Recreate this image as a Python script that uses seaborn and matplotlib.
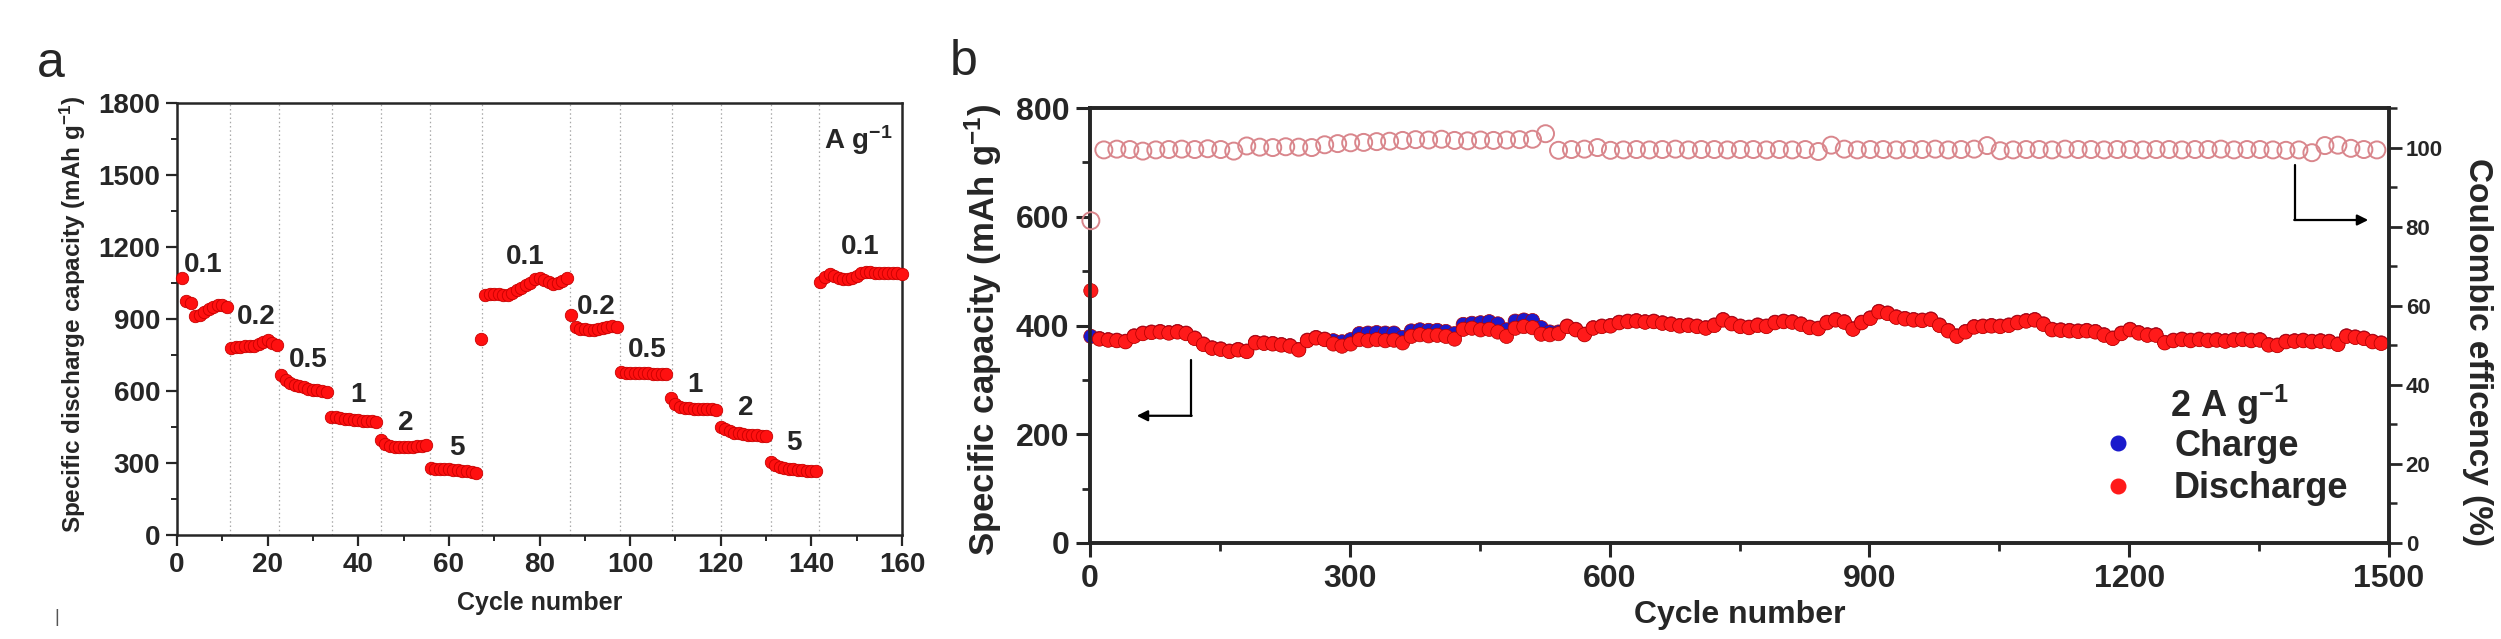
import numpy as np
import pandas as pd
import matplotlib
matplotlib.use("Agg")
import matplotlib.pyplot as plt
from matplotlib.lines import Line2D
from matplotlib.ticker import MultipleLocator
import seaborn as sns


############### data, panel a (rate capability, one value per cycle 1..160)
rate_capacity = [
    1069, 975, 965, 912, 915, 928, 940, 950, 958, 960, 952,        # 0.1
    780, 782, 784, 786, 787, 789, 795, 806, 812, 800, 792,         # 0.2
    667, 645, 633, 626, 620, 615, 610, 606, 603, 600, 597,         # 0.5
    493, 490, 487, 484, 482, 480, 478, 476, 475, 474, 472,         # 1
    396, 381, 372, 368, 367, 367, 367, 368, 369, 372, 375,         # 2
    278, 277, 276, 275, 274, 272, 270, 268, 265, 262, 258,         # 5
    818, 1000, 1005, 1005, 1003, 1002, 1000, 1010, 1020, 1030,     # 0.1
    1040, 1052, 1065, 1072, 1062, 1055, 1045, 1050, 1060, 1070,
    915, 865, 860, 858, 855, 855, 860, 862, 868, 872, 865,         # 0.2
    678, 676, 675, 674, 674, 673, 673, 672, 672, 671, 670,         # 0.5
    570, 545, 535, 530, 528, 527, 526, 525, 524, 523, 521,         # 1
    452, 440, 432, 427, 423, 420, 418, 416, 415, 414, 412,         # 2
    305, 290, 283, 280, 277, 275, 272, 270, 268, 266, 265,         # 5
    1055, 1075, 1088, 1080, 1072, 1068, 1065, 1070, 1080, 1090,    # 0.1
    1095, 1095, 1093, 1092, 1091, 1090, 1090, 1090, 1089,
]
rate_cycles = np.arange(1, len(rate_capacity) + 1)

# cycle positions where the current density changes (dotted lines)
rate_switch = [11.6, 22.6, 34.1, 45.0, 55.8, 67.3, 86.7, 97.8, 109.2, 120.0, 131.0, 141.7]

rate_labels = ["0.1", "0.2", "0.5", "1", "2", "5", "0.1", "0.2", "0.5", "1", "2", "5", "0.1"]
rate_label_x = [5.8, 17.6, 29.0, 39.9, 50.5, 61.7, 76.8, 92.6, 103.7, 114.3, 125.5, 136.2, 150.7]
rate_label_y = [1125, 910, 729, 583, 465, 361, 1160, 951, 771, 625, 528, 382, 1201]


############### data, panel b (long cycling at 2 A/g, every 10th cycle)
discharge = [
    464, 375, 373, 372, 370, 380, 385, 387, 388, 386,
    388, 385, 376, 365, 358, 356, 352, 355, 352, 368,
    367, 366, 364, 362, 355, 372, 377, 374, 366, 362,
    366, 374, 372, 374, 372, 373, 368, 380, 383, 381,
    382, 380, 375, 393, 395, 392, 393, 388, 380, 395,
    398, 396, 384, 383, 385, 398, 392, 383, 395, 398,
    399, 405, 407, 408, 406, 407, 404, 402, 399, 400,
    398, 395, 400, 410, 403, 398, 396, 400, 398, 405,
    407, 406, 402, 396, 394, 405, 410, 406, 393, 405,
    413, 425, 422, 415, 412, 410, 409, 411, 400, 390,
    380, 388, 397, 398, 399, 398, 400, 405, 408, 410,
    402, 392, 391, 390, 389, 390, 388, 382, 376, 385,
    392, 386, 382, 382, 368, 372, 374, 372, 374, 372,
    373, 371, 373, 374, 372, 373, 364, 363, 370, 371,
    372, 370, 371, 370, 365, 380, 378, 376, 370, 367,
]
charge = [
    380, 376, 374, 373, 371, 381, 386, 388, 389, 387,
    389, 386, 377, 366, 359, 357, 353, 356, 353, 369,
    368, 367, 365, 363, 356, 373, 378, 375, 372, 370,
    374, 385, 386, 387, 386, 386, 378, 390, 392, 391,
    391, 389, 385, 402, 404, 405, 407, 403, 392, 408,
    410, 409, 396, 388, 388, 399, 393, 384, 396, 399,
    400, 406, 408, 409, 407, 408, 405, 403, 400, 401,
    399, 396, 401, 411, 404, 399, 397, 401, 399, 406,
    408, 407, 403, 397, 395, 406, 411, 407, 394, 406,
    414, 426, 423, 416, 413, 411, 410, 412, 401, 391,
    381, 389, 398, 399, 400, 399, 401, 406, 409, 411,
    403, 393, 392, 391, 390, 391, 389, 383, 377, 386,
    393, 387, 383, 383, 369, 373, 375, 373, 375, 373,
    374, 372, 374, 375, 373, 374, 365, 364, 371, 372,
    373, 371, 372, 371, 366, 381, 379, 377, 371, 368,
]
cap_cycles = 1 + 10 * np.arange(len(discharge))

# coulombic efficiency, every 15th cycle
coulombic = [
    81.5, 99.4, 99.6, 99.5, 99.1, 99.4, 99.5, 99.6, 99.5, 99.7,
    99.5, 99.1, 100.4, 100.1, 100.0, 100.2, 100.1, 100.0, 100.7, 101.0,
    101.2, 101.3, 101.5, 101.6, 101.8, 102.0, 101.9, 102.1, 101.8, 101.7,
    101.9, 101.8, 101.9, 102.0, 102.1, 103.5, 99.3, 99.5, 99.6, 100.0,
    99.3, 99.4, 99.5, 99.4, 99.5, 99.6, 99.4, 99.5, 99.5, 99.4,
    99.5, 99.5, 99.4, 99.5, 99.4, 99.5, 99.0, 100.6, 99.6, 99.4,
    99.5, 99.5, 99.4, 99.5, 99.5, 99.6, 99.4, 99.5, 99.6, 100.5,
    99.2, 99.4, 99.5, 99.5, 99.4, 99.6, 99.5, 99.5, 99.4, 99.5,
    99.5, 99.4, 99.5, 99.5, 99.4, 99.5, 99.5, 99.6, 99.4, 99.5,
    99.5, 99.4, 99.3, 99.4, 98.7, 100.5, 100.6, 99.8, 99.5, 99.4,
]
ce_cycles = 1 + 15 * np.arange(len(coulombic))

series_names = ["Charge", "Discharge"]
series_colors = {"Charge": "#1a1acc", "Discharge": "#ff1a1a"}

# L-shaped pointer arrows (data coords of the left axis)
left_arrow = [(117, 337), (117, 234), (54, 234)]
right_arrow = [(1391, 695), (1391, 594), (1476, 594)]


############### style
sns.set_theme(style="ticks")
plt.rcParams["font.family"] = ["Liberation Sans", "DejaVu Sans"]
plt.rcParams["font.weight"] = "bold"
plt.rcParams["axes.labelweight"] = "bold"
plt.rcParams["mathtext.fontset"] = "custom"
plt.rcParams["mathtext.rm"] = "Liberation Sans:bold"
plt.rcParams["mathtext.default"] = "rm"

W, H = 2501, 639
fig = plt.figure(figsize=(W / 100, H / 100), dpi=100)
fig.patch.set_facecolor("white")

RED = "#ff1010"
RED_EDGE = "#c80000"


############### panel a
axa = fig.add_axes([177 / W, 1 - 535 / H, 725 / W, 432 / H])
for xs in rate_switch:
    axa.axvline(xs, color="#a8a8a8", lw=0.9, ls=(0, (1.2, 2.2)), zorder=1)

sns.scatterplot(x=rate_cycles, y=rate_capacity, ax=axa, color=RED,
                edgecolor=RED_EDGE, linewidth=0.6, s=80, zorder=3, clip_on=False)

for lab, lx, ly in zip(rate_labels, rate_label_x, rate_label_y):
    axa.text(lx, ly, lab, ha="center", va="center", fontsize=20, fontweight="bold")
axa.text(150.4, 1646, "A g$^{-1}$", ha="center", va="center", fontsize=20, fontweight="bold")

axa.set_xlim(0, 160)
axa.set_ylim(0, 1800)
axa.xaxis.set_major_locator(MultipleLocator(20))
axa.xaxis.set_minor_locator(MultipleLocator(10))
axa.yaxis.set_major_locator(MultipleLocator(300))
axa.yaxis.set_minor_locator(MultipleLocator(150))
axa.tick_params(which="major", direction="out", length=8, width=1.6, labelsize=20, pad=4)
axa.tick_params(which="minor", direction="out", length=4.5, width=1.4)
for sp in axa.spines.values():
    sp.set_linewidth(1.8)
    sp.set_visible(True)
axa.set_xlabel("Cycle number", fontsize=18, fontweight="bold")
axa.set_ylabel("Specific discharge capacity (mAh g$^{-1}$)", fontsize=17.5, fontweight="bold")
axa.xaxis.set_label_coords(0.5, -0.13)
axa.yaxis.set_label_coords(-0.123, 0.51)


############### panel b
axb = fig.add_axes([1090 / W, 1 - 543 / H, 1299 / W, 435 / H])
df_cap = pd.DataFrame({
    "cycle": np.concatenate([cap_cycles, cap_cycles]),
    "capacity": np.concatenate([charge, discharge]),
    "series": np.repeat(series_names, len(cap_cycles)),
})
sns.scatterplot(data=df_cap, x="cycle", y="capacity", hue="series",
                palette=series_colors, ax=axb, s=105, linewidth=0.5,
                edgecolor="#b00000", legend=False, zorder=3, clip_on=False)

axb.set_xlim(0, 1500)
axb.set_ylim(0, 800)
axb.xaxis.set_major_locator(MultipleLocator(300))
axb.xaxis.set_minor_locator(MultipleLocator(150))
axb.yaxis.set_major_locator(MultipleLocator(200))
axb.yaxis.set_minor_locator(MultipleLocator(100))
axb.tick_params(which="major", direction="out", length=10, width=2.2, labelsize=23, pad=5)
axb.tick_params(which="minor", direction="out", length=6, width=2.0)
for sp in axb.spines.values():
    sp.set_linewidth(2.6)
    sp.set_visible(True)
axb.set_xlabel("Cycle number", fontsize=23, fontweight="bold")
axb.set_ylabel("Specific capacity (mAh g$^{-1}$)", fontsize=25, fontweight="bold")
axb.xaxis.set_label_coords(0.5, -0.13)
axb.yaxis.set_label_coords(-0.066, 0.49)

# coulombic efficiency on a twin axis
axc = axb.twinx()
sns.scatterplot(x=ce_cycles, y=coulombic, ax=axc, marker="o", s=150,
                facecolor="none", edgecolor="#d9868c", linewidth=1.4,
                zorder=3, clip_on=False)
axc.set_ylim(0, 110)
axc.yaxis.set_major_locator(MultipleLocator(20))
axc.yaxis.set_minor_locator(MultipleLocator(10))
axc.tick_params(which="major", direction="out", length=9, width=2.0, labelsize=16, pad=3)
axc.tick_params(which="minor", direction="out", length=5.5, width=1.8)
for sp in axc.spines.values():
    sp.set_linewidth(2.6)
axc.set_ylabel("Coulombic efficency (%)", fontsize=24, fontweight="bold",
               rotation=270, va="bottom")
axc.yaxis.set_label_coords(1.056, 0.44)

# pointer arrows
for path, ax in ((left_arrow, axb), (right_arrow, axb)):
    (x0, y0), (x1, y1), (x2, y2) = path
    ax.plot([x0, x1], [y0, y1], color="black", lw=1.6, zorder=4)
    ax.annotate("", xy=(x2, y2), xytext=(x1 + (0.4 if x2 < x1 else -0.4), y1),
                arrowprops=dict(arrowstyle="-|>", color="black", lw=1.6,
                                mutation_scale=16, shrinkA=0, shrinkB=0),
                zorder=4)

# legend
handles = [Line2D([], [], ls="none", marker="o", markersize=10.5,
                  markerfacecolor=series_colors[n], markeredgecolor=series_colors[n])
           for n in series_names]
axb.legend(handles, series_names, loc="upper left", bbox_to_anchor=(0.7775, 0.262),
           frameon=False, handlelength=1.0, handletextpad=1.05,
           labelspacing=0.2, borderpad=0, borderaxespad=0,
           prop={"weight": "bold", "size": 26})
axb.text(0.8314, 0.317, "2 A g$^{-1}$", transform=axb.transAxes, ha="left",
         va="center", fontsize=26, fontweight="bold")


############### panel letters and stray mark
fig.text(37 / W, 1 - 77 / H, "a", fontsize=36, fontweight="normal", ha="left", va="baseline")
fig.text(950 / W, 1 - 75 / H, "b", fontsize=36, fontweight="normal", ha="left", va="baseline")
fig.text(57 / W, 1 - 617 / H, "|", fontsize=13, fontweight="normal", color="#555555",
         ha="center", va="center")

fig.savefig("out.png", dpi=100, facecolor="white")
